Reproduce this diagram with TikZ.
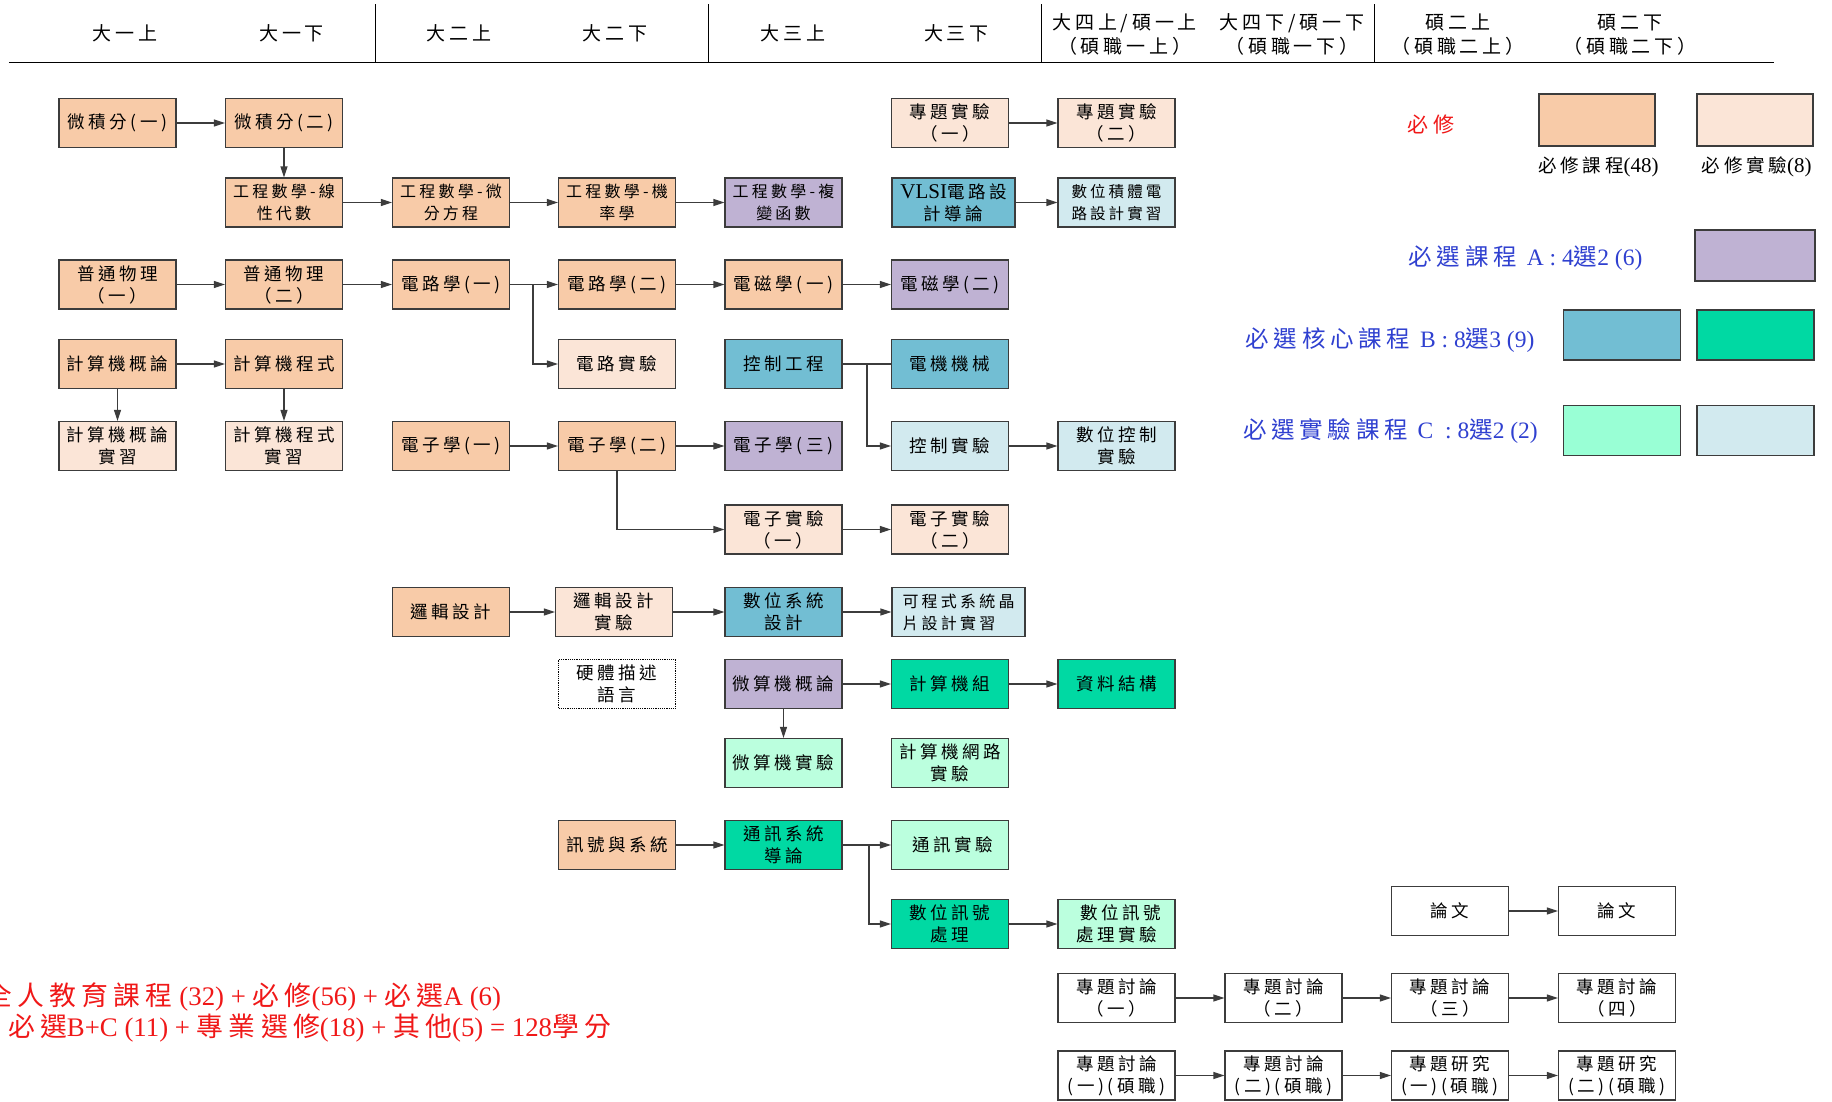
\documentclass[tikz,border=0pt]{standalone}
\usepackage{fontspec}
\setmainfont{Noto Sans CJK TC}[LetterSpace=20]
\newfontfamily\latf{Liberation Serif}
\newcommand\lat[1]{{\latf #1}}
\usetikzlibrary{arrows.meta}
\definecolor{cOrange}{HTML}{F8CBA8}
\definecolor{cPeach}{HTML}{FBE5D7}
\definecolor{cPurple}{HTML}{BFB2D3}
\definecolor{cTeal}{HTML}{72BED3}
\definecolor{cGreen}{HTML}{00D9A3}
\definecolor{cMint}{HTML}{99FFD5}
\definecolor{cMintB}{HTML}{BBFFDE}
\definecolor{cLBlue}{HTML}{D2EAEF}
\definecolor{cLine}{HTML}{3C3C3C}
\definecolor{cBlueTxt}{HTML}{2F40D0}
\definecolor{cRed}{HTML}{F01818}
\tikzset{
  box/.style={draw=cLine, line width=1.2pt, minimum width=117pt, minimum height=49pt,
    inner sep=1pt, align=center, font=\fontsize{17.5}{22}\selectfont},
  smallt/.style={font=\fontsize{16}{22}\selectfont},
  req/.style={box, fill=cOrange},
  lab/.style={box, fill=cPeach},
  ela/.style={box, fill=cPurple},
  elb/.style={box, fill=cTeal},
  elbg/.style={box, fill=cGreen},
  elcm/.style={box, fill=cMintB},
  elcb/.style={box, fill=cLBlue},
  plainbox/.style={box, fill=white},
  hdr/.style={align=center, font=\fontsize{19}{24}\selectfont},
  legtxt/.style={text=cBlueTxt, font=\fontsize{23.5}{27}\selectfont},
  tottxt/.style={anchor=west, text=cRed, font=\fontsize{26.8}{30}\selectfont, inner sep=0pt},
  arr/.style={draw=cLine, line width=1.2pt, -{Triangle[length=11pt,width=7pt]}},
  ln/.style={draw=cLine, line width=1.2pt},
}
\begin{document}
\begin{tikzpicture}[x=1pt,y=-1pt]
\useasboundingbox (0,0) rectangle (1832,1101);
\fill[white] (0,0) rectangle (1832,1101);

% header
\draw[line width=1.4pt] (8.8,62.7) -- (1774,62.7);
\foreach \xx in {375.6,708,1041.5,1374} \draw[line width=0.9pt] (\xx,4) -- (\xx,62.7);
\node[hdr] (h1) at (125,33) {大一上};
\node[hdr] (h2) at (291.7,33) {大一下};
\node[hdr] (h3) at (459,33) {大二上};
\node[hdr] (h4) at (615,33) {大二下};
\node[hdr] (h5) at (793,33) {大三上};
\node[hdr] (h6) at (956.5,33) {大三下};
\node[hdr] (h7) at (1124.7,34.5) {大四上/碩一上\\（碩職一上）};
\node[hdr] (h8) at (1292,34.5) {大四下/碩一下\\（碩職一下）};
\node[hdr] (h9) at (1458,34.5) {碩二上\\（碩職二上）};
\node[hdr] (h10) at (1630,34.5) {碩二下\\（碩職二下）};

% row 1
\node[req] (calc1) at (117.5,123) {微積分(一)};
\node[req] (calc2) at (284,123) {微積分(二)};
\node[lab] (proj1) at (950,123) {專題實驗\\（一）};
\node[lab] (proj2) at (1116.5,123) {專題實驗\\（二）};
% row 2
\node[req, smallt] (em1) at (284,202.5) {工程數學-線\\性代數};
\node[req, smallt] (em2) at (451,202.5) {工程數學-微\\分方程};
\node[req, smallt] (em3) at (617,202.5) {工程數學-機\\率學};
\node[ela, smallt] (em4) at (783.5,202.5) {工程數學-複\\變函數};
\node[elb, minimum width=123pt] (vlsi) at (953.5,202.5) {{\latf\fontsize{21}{22}\selectfont VLSI}電路設\\計導論};
\node[elcb, font=\fontsize{15.5}{22}\selectfont] (dic) at (1116.5,202.5) {數位積體電\\路設計實習};
% row 3
\node[req] (phy1) at (117.5,284.5) {普通物理\\（一）};
\node[req] (phy2) at (284,284.5) {普通物理\\（二）};
\node[req] (cir1) at (451,284.5) {電路學(一)};
\node[req] (cir2) at (617,284.5) {電路學(二)};
\node[req] (emag1) at (783.5,284.5) {電磁學(一)};
\node[ela] (emag2) at (950,284.5) {電磁學(二)};
% row 4
\node[req] (cs1) at (117.5,364) {計算機概論};
\node[req] (cs2) at (284,364) {計算機程式};
\node[lab] (cirlab) at (617,364) {電路實驗};
\node[elb] (ctrl) at (783.5,364) {控制工程};
\node[elb] (mach) at (950,364) {電機機械};
% row 5
\node[lab] (cs1lab) at (117.5,446) {計算機概論\\實習};
\node[lab] (cs2lab) at (284,446) {計算機程式\\實習};
\node[req] (el1) at (451,446) {電子學(一)};
\node[req] (el2) at (617,446) {電子學(二)};
\node[ela] (el3) at (783.5,446) {電子學(三)};
\node[elcb] (ctrllab) at (950,446) {控制實驗};
\node[elcb] (dctrllab) at (1116.5,446) {數位控制\\實驗};
% row 6
\node[lab] (ellab1) at (783.5,529.5) {電子實驗\\（一）};
\node[lab] (ellab2) at (950,529.5) {電子實驗\\（二）};
% row 7
\node[req] (logic) at (451,612) {邏輯設計};
\node[lab] (logiclab) at (614,612) {邏輯設計\\實驗};
\node[elb] (dsd) at (783.5,612) {數位系統\\設計};
\node[elcb, smallt, minimum width=133pt, align=left] (soc) at (958.5,612) {可程式系統晶\\片設計實習};
% row 8
\node[plainbox, draw=black, densely dotted] (hdl) at (617,684) {硬體描述\\語言};
\node[ela] (micro) at (783.5,684) {微算機概論};
\node[elbg] (org) at (950,684) {計算機組};
\node[elbg] (ds) at (1116.5,684) {資料結構};
% row 9
\node[elcm] (microlab) at (783.5,763) {微算機實驗};
\node[elcm] (netlab) at (950,763) {計算機網路\\實驗};
% row 10
\node[req] (sig) at (617,845) {訊號與系統};
\node[elbg] (comm) at (783.5,845) {通訊系統\\導論};
\node[elcm] (commlab) at (950,845) {\hspace*{6pt}通訊實驗};
% row 11
\node[elbg] (dsp) at (950,924) {數位訊號\\處理};
\node[elcm] (dsplab) at (1116.5,924) {\hspace*{8pt}數位訊號\\處理實驗};
\node[plainbox] (th1) at (1450,911) {論文};
\node[plainbox] (th2) at (1617,911) {論文};
% row 12
\node[plainbox] (sem1) at (1116.5,998) {專題討論\\（一）};
\node[plainbox] (sem2) at (1283.5,998) {專題討論\\（二）};
\node[plainbox] (sem3) at (1450,998) {專題討論\\（三）};
\node[plainbox] (sem4) at (1617,998) {專題討論\\（四）};
% row 13
\node[plainbox] (semj1) at (1116.5,1075.5) {專題討論\\(一)(碩職)};
\node[plainbox] (semj2) at (1283.5,1075.5) {專題討論\\(二)(碩職)};
\node[plainbox] (semj3) at (1450,1075.5) {專題研究\\(一)(碩職)};
\node[plainbox] (semj4) at (1617,1075.5) {專題研究\\(二)(碩職)};

% connectors
\draw[arr] (calc1) -- (calc2);
\draw[arr] (calc2) -- (em1);
\draw[arr] (em1) -- (em2);
\draw[arr] (em2) -- (em3);
\draw[arr] (em3) -- (em4);
\draw[arr] (proj1) -- (proj2);
\draw[arr] (vlsi) -- (dic);
\draw[arr] (phy1) -- (phy2);
\draw[arr] (phy2) -- (cir1);
\draw[arr] (cir1) -- (cir2);
\coordinate (brc) at (533,284.5);
\draw[arr] (brc) |- (cirlab.west);
\draw[arr] (cir2) -- (emag1);
\draw[arr] (emag1) -- (emag2);
\draw[arr] (cs1) -- (cs2);
\draw[arr] (cs1) -- (cs1lab);
\draw[arr] (cs2) -- (cs2lab);
\draw[ln] (ctrl) -- (mach);
\coordinate (brk) at (867,364);
\draw[arr] (brk) |- (ctrllab.west);
\draw[arr] (ctrllab) -- (dctrllab);
\draw[arr] (el1) -- (el2);
\draw[arr] (el2) -- (el3);
\draw[arr] (el2.south) |- (ellab1.west);
\draw[arr] (ellab1) -- (ellab2);
\draw[arr] (logic) -- (logiclab);
\draw[arr] (logiclab) -- (dsd);
\draw[arr] (dsd) -- (soc);
\draw[arr] (micro) -- (org);
\draw[arr] (org) -- (ds);
\draw[arr] (micro) -- (microlab);
\draw[arr] (sig) -- (comm);
\draw[arr] (comm) -- (commlab);
\coordinate (brm) at (869,845);
\draw[arr] (brm) |- (dsp.west);
\draw[arr] (dsp) -- (dsplab);
\draw[arr] (th1) -- (th2);
\draw[arr] (sem1) -- (sem2);
\draw[arr] (sem2) -- (sem3);
\draw[arr] (sem3) -- (sem4);
\draw[arr] (semj1) -- (semj2);
\draw[arr] (semj2) -- (semj3);
\draw[arr] (semj3) -- (semj4);

% legend
\node[text=cRed, font=\fontsize{21}{24}\selectfont] (lreq) at (1431,125) {必修};
\node[req, minimum width=116pt, minimum height=52pt] (lg1) at (1597,120) {};
\node[lab, minimum width=116pt, minimum height=52pt] (lg2) at (1755,120) {};
\node[font=\fontsize{18.5}{22}\selectfont] (lg1t) at (1598.6,167) {必修課程\lat{\fontsize{21}{22}\selectfont(48)}};
\node[font=\fontsize{18.5}{22}\selectfont] (lg2t) at (1756.7,167) {必修實驗\lat{\fontsize{21}{22}\selectfont(8)}};
\node[legtxt] (lA) at (1525.6,258) {必選課程 \lat{A : 4}選\lat{2 (6)}};
\node[ela, minimum width=120pt, minimum height=51pt] (lgA) at (1755,255.5) {};
\node[legtxt] (lB) at (1390,340) {必選核心課程 \lat{B : 8}選\lat{3 (9)}};
\node[elb, minimum width=117pt, minimum height=50pt] (lgB1) at (1622,335) {};
\node[elbg, minimum width=117pt, minimum height=50pt] (lgB2) at (1755.5,335) {};
\node[legtxt] (lC) at (1390.5,430.7) {必選實驗課程 \lat{C \ : 8}選\lat{2 (2)}};
\node[box, fill=cMint, minimum width=117pt, minimum height=50pt] (lgC1) at (1622,430.5) {};
\node[elcb, minimum width=117pt, minimum height=50pt] (lgC2) at (1755.5,430.5) {};

% totals
\node[tottxt] (tot1) at (-15,997)
  {全人教育課程\lat{ (32) + }必修\lat{(56) + }必選\lat{A (6)}};
\node[tottxt] (tot2) at (-14,1028)
  {\lat{+ }必選\lat{B+C (11) + }專業選修\lat{(18) + }其他\lat{(5) = 128}學分};
\end{tikzpicture}
\end{document}
